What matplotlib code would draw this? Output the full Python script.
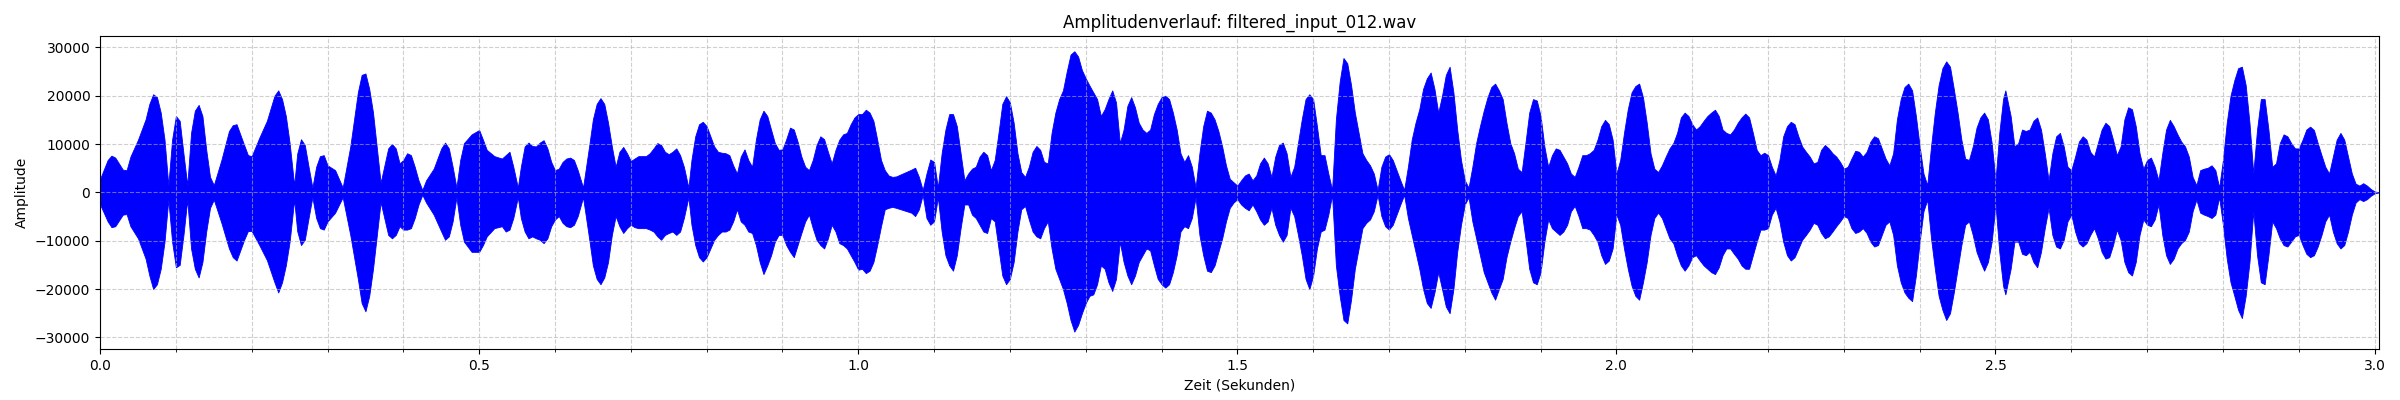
import numpy as np
import matplotlib
matplotlib.use("Agg")
import matplotlib.pyplot as plt
from matplotlib.ticker import MultipleLocator

# ------------------------------------------------------------
# Hüllkurve des Signals
# zeit in Sekunden, obere / untere Amplitude
# ------------------------------------------------------------
dateiname = "filtered_input_012.wav"

zeit = [
    # 0.0 - 0.5 s
    0.000, 0.010, 0.015, 0.020, 0.030, 0.035, 0.040, 0.050, 0.060, 0.065,
    0.070, 0.075, 0.080, 0.085, 0.090, 0.095, 0.100, 0.105, 0.110, 0.115,
    0.120, 0.125, 0.130, 0.135, 0.140, 0.145, 0.150, 0.160, 0.170, 0.175,
    0.180, 0.190, 0.195, 0.200, 0.210, 0.220, 0.230, 0.235, 0.240, 0.245,
    0.250, 0.256, 0.260, 0.265, 0.270, 0.275, 0.280, 0.285, 0.290, 0.295,
    0.300, 0.310, 0.320, 0.330, 0.340, 0.345, 0.350, 0.355, 0.360, 0.370,
    0.380, 0.385, 0.390, 0.395, 0.400, 0.405, 0.410, 0.415, 0.420, 0.425,
    0.430, 0.440, 0.450, 0.455, 0.460, 0.465, 0.470, 0.475, 0.480, 0.490,
    # 0.5 - 1.0 s
    0.500, 0.505, 0.510, 0.520, 0.530, 0.535, 0.540, 0.545, 0.551, 0.555,
    0.560, 0.565, 0.570, 0.575, 0.580, 0.585, 0.590, 0.595, 0.600, 0.605,
    0.610, 0.615, 0.620, 0.625, 0.630, 0.637, 0.645, 0.650, 0.655, 0.660,
    0.665, 0.670, 0.675, 0.680, 0.685, 0.690, 0.695, 0.700, 0.705, 0.710,
    0.720, 0.725, 0.730, 0.735, 0.740, 0.745, 0.750, 0.755, 0.760, 0.765,
    0.770, 0.776, 0.780, 0.785, 0.790, 0.795, 0.800, 0.805, 0.810, 0.815,
    0.820, 0.825, 0.830, 0.835, 0.840, 0.845, 0.850, 0.855, 0.860, 0.865,
    0.870, 0.875, 0.880, 0.885, 0.890, 0.895, 0.900, 0.905, 0.910, 0.915,
    0.920, 0.925, 0.930, 0.935, 0.940, 0.945, 0.950, 0.955, 0.960, 0.965,
    0.970, 0.975, 0.980, 0.985, 0.990, 0.995,
    # 1.0 - 1.5 s
    1.000, 1.005, 1.010, 1.015, 1.020, 1.025, 1.030, 1.035, 1.040, 1.045,
    1.050, 1.060, 1.070, 1.075, 1.080, 1.085, 1.090, 1.095, 1.100, 1.105,
    1.110, 1.115, 1.120, 1.125, 1.130, 1.135, 1.140, 1.145, 1.150, 1.155,
    1.160, 1.165, 1.170, 1.175, 1.180, 1.185, 1.190, 1.195, 1.200, 1.205,
    1.210, 1.215, 1.220, 1.225, 1.230, 1.235, 1.240, 1.245, 1.250, 1.255,
    1.260, 1.265, 1.270, 1.275, 1.280, 1.285, 1.290, 1.295, 1.300, 1.305,
    1.310, 1.315, 1.320, 1.325, 1.330, 1.335, 1.340, 1.345, 1.350, 1.355,
    1.360, 1.365, 1.370, 1.375, 1.380, 1.385, 1.390, 1.395, 1.400, 1.405,
    1.410, 1.415, 1.420, 1.425, 1.430, 1.435, 1.440, 1.445, 1.450, 1.455,
    1.460, 1.465, 1.470, 1.475, 1.480, 1.485, 1.490, 1.495,
    # 1.5 - 2.0 s
    1.500, 1.505, 1.510, 1.515, 1.520, 1.525, 1.530, 1.535, 1.540, 1.545,
    1.550, 1.555, 1.560, 1.565, 1.570, 1.575, 1.580, 1.585, 1.590, 1.595,
    1.600, 1.605, 1.610, 1.615, 1.620, 1.625, 1.630, 1.635, 1.640, 1.645,
    1.650, 1.655, 1.660, 1.665, 1.670, 1.675, 1.680, 1.685, 1.690, 1.695,
    1.700, 1.705, 1.710, 1.715, 1.720, 1.725, 1.730, 1.735, 1.740, 1.745,
    1.750, 1.755, 1.760, 1.765, 1.770, 1.775, 1.780, 1.785, 1.790, 1.795,
    1.800, 1.805, 1.810, 1.815, 1.820, 1.825, 1.830, 1.835, 1.840, 1.845,
    1.850, 1.855, 1.860, 1.865, 1.870, 1.875, 1.880, 1.885, 1.890, 1.895,
    1.900, 1.905, 1.910, 1.915, 1.920, 1.925, 1.930, 1.935, 1.940, 1.945,
    1.950, 1.955, 1.960, 1.965, 1.970, 1.975, 1.980, 1.985, 1.990, 1.995,
    # 2.0 - 2.5 s
    2.000, 2.005, 2.010, 2.015, 2.020, 2.025, 2.030, 2.035, 2.040, 2.045,
    2.050, 2.055, 2.060, 2.065, 2.070, 2.075, 2.080, 2.085, 2.090, 2.095,
    2.100, 2.105, 2.110, 2.115, 2.120, 2.125, 2.130, 2.135, 2.140, 2.145,
    2.150, 2.155, 2.160, 2.165, 2.170, 2.175, 2.180, 2.185, 2.190, 2.195,
    2.200, 2.205, 2.210, 2.215, 2.220, 2.225, 2.230, 2.235, 2.240, 2.245,
    2.250, 2.255, 2.260, 2.265, 2.270, 2.275, 2.280, 2.285, 2.290, 2.295,
    2.300, 2.305, 2.310, 2.315, 2.320, 2.325, 2.330, 2.335, 2.340, 2.345,
    2.350, 2.355, 2.360, 2.365, 2.370, 2.375, 2.380, 2.385, 2.390, 2.395,
    2.400, 2.405, 2.410, 2.415, 2.420, 2.425, 2.430, 2.435, 2.440, 2.445,
    2.450, 2.455, 2.460, 2.465, 2.470, 2.475, 2.480, 2.485, 2.490, 2.495,
    # 2.5 - 3.0 s
    2.500, 2.505, 2.510, 2.513, 2.520, 2.525, 2.530, 2.535, 2.540, 2.545,
    2.550, 2.555, 2.560, 2.565, 2.570, 2.575, 2.580, 2.585, 2.590, 2.595,
    2.600, 2.605, 2.610, 2.615, 2.620, 2.625, 2.630, 2.635, 2.640, 2.645,
    2.650, 2.655, 2.660, 2.665, 2.670, 2.675, 2.680, 2.685, 2.690, 2.695,
    2.700, 2.705, 2.710, 2.715, 2.720, 2.725, 2.730, 2.735, 2.740, 2.745,
    2.750, 2.755, 2.760, 2.765, 2.770, 2.775, 2.780, 2.785, 2.790, 2.795,
    2.800, 2.805, 2.810, 2.815, 2.820, 2.825, 2.830, 2.835, 2.840, 2.845,
    2.850, 2.855, 2.860, 2.865, 2.870, 2.875, 2.880, 2.885, 2.890, 2.895,
    2.900, 2.905, 2.910, 2.915, 2.920, 2.925, 2.930, 2.935, 2.940, 2.945,
    2.950, 2.955, 2.960, 2.965, 2.970, 2.975, 2.980, 2.985, 2.990, 2.995,
    3.000, 3.006,
]

obere = [
    # 0.0 - 0.5 s
    2800, 6700, 7600, 7200, 4700, 4600, 7400, 10900, 15100, 18300,
    20300, 19700, 16500, 10900, 1500, 10900, 15800, 14800, 8000, 1500,
    12300, 16900, 18100, 15800, 8800, 3200, 1500, 6700, 12700, 13900,
    14100, 9800, 7700, 7500, 11300, 14800, 20000, 21100, 19300, 15800,
    10200, 1500, 8000, 11000, 9800, 5300, 1000, 5300, 7500, 7700,
    5600, 4600, 1000, 9500, 20700, 24300, 24600, 21400, 16500, 2000,
    9100, 10000, 9100, 6000, 6700, 8100, 7700, 5300, 2500, 500,
    2500, 4900, 9100, 10300, 9100, 5300, 1000, 6700, 10200, 12000,
    # 0.5 - 1.0 s
    12900, 10900, 8800, 7500, 7000, 7700, 8400, 5300, 1000, 5300,
    9500, 10300, 9600, 9500, 10300, 10800, 9100, 6300, 4600, 4900,
    6300, 7000, 7200, 6700, 4600, 1000, 9500, 15100, 18300, 19500,
    18300, 14400, 9500, 5300, 8400, 9400, 8100, 6500, 7000, 7500,
    7500, 8100, 9100, 10200, 9800, 8400, 7900, 8400, 9100, 7700,
    5300, 1000, 6700, 11600, 14100, 14600, 13700, 11600, 9500, 8400,
    8200, 8100, 7700, 5600, 3900, 7400, 8900, 6700, 5300, 10900,
    15100, 16900, 15800, 13000, 10200, 8800, 8900, 11000, 13400, 13000,
    10500, 7400, 5300, 4600, 6700, 9800, 11600, 11000, 8400, 6000,
    8800, 10900, 12000, 12300, 14100, 15500,
    # 1.0 - 1.5 s
    16200, 16200, 17100, 16500, 14800, 10900, 6700, 4600, 3500, 3200,
    3300, 4000, 4700, 5100, 3200, 500, 3900, 6800, 6300, 1000,
    8100, 13000, 16200, 16200, 13700, 8100, 2500, 3900, 4900, 5300,
    7400, 8400, 7700, 4600, 6700, 12300, 18300, 19900, 18600, 14400,
    8100, 4200, 3200, 5300, 8400, 9600, 8800, 6300, 6000, 12300,
    16500, 19300, 21100, 25000, 28500, 29200, 28100, 25300, 23600, 22100,
    20700, 19300, 15800, 17200, 19300, 21100, 18600, 10200, 13000, 17900,
    19700, 17600, 14400, 13000, 12300, 13000, 16200, 18300, 19700, 20000,
    19300, 16500, 13000, 8100, 6300, 7700, 5300, 1000, 8100, 13700,
    16900, 16500, 15100, 12700, 9500, 5600, 2800, 2100,
    # 1.5 - 2.0 s
    1400, 2500, 3500, 3900, 2500, 3500, 6000, 7200, 6000, 3200,
    7400, 9800, 10300, 8100, 3200, 5300, 10200, 15100, 19300, 20300,
    19300, 13700, 7700, 7700, 3900, 500, 15100, 22900, 27800, 26700,
    22200, 16500, 12300, 8100, 6700, 5600, 3900, 500, 5300, 7400,
    7900, 6700, 4600, 2500, 500, 5300, 10900, 14400, 17200, 21400,
    23600, 24800, 21400, 16500, 20000, 24300, 26000, 20700, 13000, 6700,
    2500, 1000, 5300, 10200, 13700, 16900, 19700, 21800, 22500, 21100,
    19300, 14400, 10200, 8100, 4900, 4200, 10200, 16500, 19300, 19000,
    15800, 9500, 5300, 7700, 9100, 8800, 7400, 6000, 3900, 3200,
    5300, 7700, 7700, 8100, 8800, 10900, 13700, 15000, 14100, 10900,
    # 2.0 - 2.5 s
    3900, 6700, 12300, 17200, 20700, 22000, 22500, 19700, 14400, 8100,
    4900, 4200, 5600, 7400, 9100, 10200, 12300, 15500, 16500, 15800,
    14100, 13000, 13700, 14800, 15800, 16500, 17100, 15800, 13000, 12300,
    12000, 13000, 14400, 15500, 16300, 15500, 12300, 8800, 7700, 8200,
    7700, 5300, 3500, 6700, 11600, 13700, 14600, 14100, 11600, 9500,
    8400, 7400, 6000, 6300, 8800, 9800, 9100, 8100, 7400, 6300,
    4900, 5300, 7000, 8600, 8400, 7400, 8400, 10500, 11600, 11200,
    9100, 7000, 5600, 8100, 15100, 19300, 21800, 22500, 21100, 15800,
    9500, 3900, 1500, 9500, 16500, 22200, 25700, 27100, 26000, 21400,
    16500, 10900, 7000, 6700, 9500, 13400, 15500, 16500, 15100, 10200,
    # 2.5 - 3.0 s
    2500, 12300, 19300, 21100, 15800, 9500, 10200, 13000, 12700, 13000,
    14800, 15500, 13000, 8100, 2500, 8100, 11600, 12300, 9500, 5300,
    4600, 7400, 10500, 11600, 10900, 8400, 7400, 10200, 13000, 14400,
    13700, 10900, 7700, 9500, 15100, 17600, 17200, 13700, 8100, 4900,
    6700, 7200, 5300, 2500, 8100, 13000, 15000, 13700, 12000, 10500,
    9500, 7400, 3200, 1500, 4600, 4900, 5100, 5600, 4600, 1000,
    6700, 14400, 20000, 23200, 25700, 26000, 22200, 14400, 3900, 13000,
    19300, 19300, 13000, 5300, 6000, 10200, 12000, 11600, 10200, 9100,
    9100, 10900, 13000, 13600, 12900, 10200, 7700, 5300, 3900, 7400,
    10900, 12300, 10900, 7400, 3900, 1800, 1400, 1900, 1400, 700,
    200, 0,
]

untere = [
    # 0.0 - 0.5 s
    -2500, -6000, -7200, -7000, -4600, -4500, -7000, -9500, -13700, -17200,
    -20000, -19000, -15800, -10200, -1500, -10200, -15500, -15000, -8800, -1500,
    -11600, -15800, -17600, -14400, -8100, -3200, -1500, -6300, -11600, -13400,
    -14100, -9800, -8000, -8000, -10900, -14000, -18600, -20700, -18600, -15100,
    -10200, -1500, -8000, -10900, -9800, -5300, -1000, -5300, -7400, -7700,
    -6000, -4200, -1000, -8800, -17900, -22900, -24600, -21400, -15800, -2000,
    -8800, -9500, -8800, -7000, -7700, -7700, -7400, -5300, -2500, -500,
    -2100, -4600, -8100, -9800, -9100, -6000, -1000, -6700, -10200, -12300,
    # 0.5 - 1.0 s
    -12300, -10900, -9100, -7400, -7000, -8100, -7700, -5300, -1000, -5300,
    -8100, -9500, -9100, -9500, -9800, -10500, -9500, -7000, -5600, -4900,
    -6300, -7000, -7200, -6700, -4900, -1000, -9500, -15100, -17900, -19000,
    -17600, -14400, -8800, -4900, -7000, -8400, -7400, -6700, -7200, -7400,
    -7400, -7700, -8100, -9100, -9800, -8800, -8400, -8100, -8800, -8100,
    -5300, -1000, -6700, -10900, -13400, -14300, -13400, -11600, -9800, -8800,
    -8100, -8100, -7700, -6000, -3500, -6000, -6700, -8100, -8400, -10900,
    -14400, -16900, -15100, -13000, -10200, -8800, -8800, -10900, -12300, -13400,
    -10900, -8400, -6000, -4600, -7400, -9800, -10900, -11600, -9500, -6700,
    -8100, -10500, -10900, -11600, -13000, -14400,
    # 1.0 - 1.5 s
    -16000, -15800, -16700, -16200, -14400, -10900, -7000, -3500, -3200, -3000,
    -3200, -3700, -4200, -4900, -3500, -500, -5300, -6700, -6000, -1000,
    -8100, -13000, -15100, -16200, -13000, -7400, -2500, -2500, -4600, -5300,
    -6700, -8100, -8400, -5300, -6000, -11600, -17200, -19000, -17900, -14400,
    -8100, -3500, -2800, -5600, -8100, -9100, -9500, -7400, -6000, -11600,
    -15800, -17900, -20000, -22900, -26400, -28800, -27400, -25000, -22900, -21400,
    -21100, -19000, -15100, -15800, -18600, -20400, -17900, -10200, -14400, -17200,
    -19000, -17200, -14400, -13000, -11600, -12000, -15100, -17900, -19000, -19700,
    -19000, -16500, -13000, -8100, -7000, -7400, -5300, -1000, -8800, -13000,
    -16200, -16500, -15100, -12300, -9500, -6000, -3200, -2100,
    # 1.5 - 2.0 s
    -1400, -2500, -3200, -3700, -2500, -3900, -5600, -6700, -6000, -3200,
    -6700, -8800, -10200, -8800, -3200, -4900, -8800, -13000, -17900, -20000,
    -17200, -11600, -8100, -7700, -4600, -500, -15100, -21400, -26400, -27100,
    -22200, -15800, -11600, -7400, -6300, -5600, -3900, -500, -4900, -7000,
    -7700, -6700, -4600, -2500, -500, -5300, -8800, -12300, -15800, -20000,
    -22900, -23900, -20700, -16500, -20000, -23600, -25000, -20000, -12300, -6700,
    -2500, -1000, -6000, -9500, -13000, -16500, -18600, -20700, -22200, -20000,
    -17900, -13400, -10200, -7400, -4900, -3900, -9500, -15800, -18600, -19000,
    -16500, -10200, -5600, -7400, -8100, -8800, -8100, -6700, -3900, -2800,
    -4900, -7400, -7400, -7700, -8800, -10200, -13000, -14800, -14100, -11600,
    # 2.0 - 2.5 s
    -4600, -6700, -11600, -15800, -19300, -21400, -22200, -18600, -14400, -8800,
    -5300, -4200, -5300, -7400, -9500, -10500, -13000, -15100, -16200, -15100,
    -13400, -13000, -14100, -15100, -15800, -16500, -16900, -15500, -13000, -11600,
    -11600, -12700, -13700, -15100, -15800, -15800, -13000, -10200, -7700, -7700,
    -7400, -4600, -3200, -6000, -10200, -13000, -14100, -13400, -11600, -9800,
    -8800, -7700, -6300, -6700, -8400, -9500, -9100, -8100, -7000, -6000,
    -4900, -5300, -7400, -8400, -8100, -7400, -8400, -10200, -11200, -10900,
    -8800, -6700, -6000, -8800, -15100, -18600, -20700, -21800, -22500, -17200,
    -10200, -3900, -1500, -9500, -15800, -21400, -24300, -26400, -25000, -20700,
    -15800, -10900, -6700, -6000, -8800, -12300, -14400, -16200, -14400, -10200,
    # 2.5 - 3.0 s
    -2500, -12300, -19300, -21100, -15800, -10200, -10200, -12700, -13000, -12300,
    -14400, -15500, -12300, -7400, -3200, -8800, -11200, -11600, -9800, -6000,
    -4600, -8100, -10500, -11200, -10500, -8800, -7400, -9500, -12300, -13700,
    -13400, -10900, -7700, -9800, -14400, -16500, -17200, -14400, -8800, -5600,
    -6700, -7000, -5600, -2500, -8800, -13000, -14800, -13700, -11600, -10500,
    -9800, -8100, -3900, -1500, -4200, -4600, -4900, -5300, -4600, -1000,
    -6700, -13700, -18600, -21400, -24300, -26000, -21400, -14400, -3900, -13000,
    -18600, -19000, -13000, -6000, -7400, -9500, -10900, -11200, -10200, -9100,
    -8800, -10900, -12700, -13400, -13000, -11200, -8800, -6000, -4600, -8100,
    -10500, -11600, -10900, -8100, -4600, -2100, -1400, -1800, -1400, -700,
    -200, 0,
]

# ------------------------------------------------------------
# PLOT
# ------------------------------------------------------------
t = np.array(zeit)
oben = np.array(obere, dtype=float)
unten = np.array(untere, dtype=float)

fig, ax = plt.subplots(figsize=(24, 4), dpi=100)

ax.fill_between(t, unten, oben, color="blue", linewidth=0.6, edgecolor="blue")

ax.set_title(f"Amplitudenverlauf: {dateiname}")
ax.set_xlabel("Zeit (Sekunden)")
ax.set_ylabel("Amplitude")

ax.set_xlim(0, t[-1])
ax.set_ylim(-32400, 32350)
ax.xaxis.set_major_locator(MultipleLocator(0.5))
ax.xaxis.set_minor_locator(MultipleLocator(0.1))
ax.yaxis.set_major_locator(MultipleLocator(10000))

ax.grid(True, which="both", linestyle="--", alpha=0.6)

plt.subplots_adjust(left=0.0417, right=0.9913, bottom=0.1275, top=0.91)
plt.savefig("out.png", dpi=100)
plt.close()
